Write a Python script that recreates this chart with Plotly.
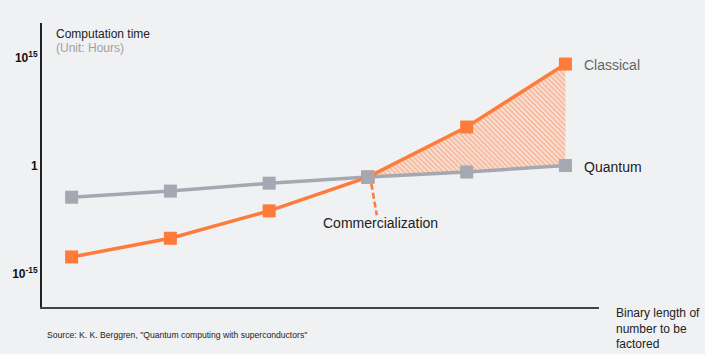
import plotly.graph_objects as go

# Data (computation time in hours, log scale)
x_pos = [1, 2, 3, 4, 5, 6]
classical = [10**-12.7, 10**-10.1, 10**-6.3, 10**-1.6, 10**5.35, 10**14.1]
quantum = [10**-4.4, 10**-3.55, 10**-2.45, 10**-1.6, 10**-0.9, 10**0.0]
tick_vals = [1e-15, 1, 1e15]
tick_text = ["<b>10<sup>-15</sup></b>", "<b>1</b>", "<b>10<sup>15</sup></b>"]
series_names = ["Classical", "Quantum"]

ORANGE = "#ff7b3a"
GRAY = "#a4a8b2"
BG = "#f0f1f3"
FONT = "Liberation Sans, Arial, sans-serif"

W, H = 705, 354
L, R, T, B = 37, 106, 23, 47

def px(xp):
    return (xp - L) / (W - L - R)

def py(yp):
    return 1 - (yp - T) / (H - T - B)

fig = go.Figure()

# hatched region between the curves after crossover
i0 = 3
fig.add_trace(go.Scatter(x=x_pos[i0:], y=quantum[i0:], mode="lines",
                         line=dict(width=0, color=GRAY), hoverinfo="skip", showlegend=False))
fig.add_trace(go.Scatter(x=x_pos[i0:], y=classical[i0:], mode="lines", fill="tonexty",
                         fillcolor="rgba(0,0,0,0)",
                         fillpattern=dict(shape="\\", fgcolor="#ff8448", bgcolor="rgba(255,200,170,0.25)",
                                          size=3.5, solidity=0.55),
                         line=dict(width=0, color=ORANGE), hoverinfo="skip", showlegend=False))

fig.add_trace(go.Scatter(x=x_pos, y=quantum, mode="lines+markers", name=series_names[1],
                         line=dict(color=GRAY, width=3.5),
                         marker=dict(symbol="square", size=13, color=GRAY), showlegend=False))
fig.add_trace(go.Scatter(x=x_pos, y=classical, mode="lines+markers", name=series_names[0],
                         line=dict(color=ORANGE, width=3.5),
                         marker=dict(symbol="square", size=13, color=ORANGE), showlegend=False))
# redraw quantum crossover marker on top
fig.add_trace(go.Scatter(x=[x_pos[3]], y=[quantum[3]], mode="markers",
                         marker=dict(symbol="square", size=13, color=GRAY), showlegend=False,
                         hoverinfo="skip"))

# commercialization dashed pointer
fig.add_trace(go.Scatter(x=[4.035, 4.09], y=[10**-2.55, 10**-6.9], mode="lines",
                         line=dict(color=ORANGE, width=2.6, dash="6px,3px"),
                         hoverinfo="skip", showlegend=False))

anns = [
    dict(x=px(49), y=py(34), text="Computation time", font=dict(size=12, color="#222")),
    dict(x=px(49), y=py(48), text="(Unit: Hours)", font=dict(size=12, color="#a0a0a0")),
    dict(x=px(582), y=py(65), text="Classical", font=dict(size=14, color="#666")),
    dict(x=px(582), y=py(167), text="Quantum", font=dict(size=14, color="#222")),
    dict(x=px(319), y=py(223), text="Commercialization", font=dict(size=14, color="#222")),
    dict(x=px(614), y=py(329), text="Binary length of<br>number to be<br>factored",
         font=dict(size=12, color="#222"), align="left"),
    dict(x=px(40), y=py(335), text='Source: K. K. Berggren, "Quantum computing with superconductors"',
         font=dict(size=8.6, color="#222")),
]
for a in anns:
    a.update(xref="paper", yref="paper", xanchor="left", yanchor="middle", showarrow=False)
    fig.add_annotation(**a)

fig.update_layout(
    width=W, height=H,
    margin=dict(l=L, r=R, t=T, b=B),
    paper_bgcolor=BG, plot_bgcolor=BG,
    font=dict(family=FONT, color="#222"),
    showlegend=False,
    xaxis=dict(range=[0.7, 6.34], showgrid=False, zeroline=False, showticklabels=False,
               ticks="", showline=True, linecolor="#444", linewidth=1.5),
    yaxis=dict(type="log", range=[-19.65, 19.8], showgrid=False, zeroline=False,
               tickvals=tick_vals, ticktext=tick_text, ticks="",
               tickfont=dict(size=12, color="#111"),
               showline=True, linecolor="#222", linewidth=2),
)

fig.write_html("out.html")
